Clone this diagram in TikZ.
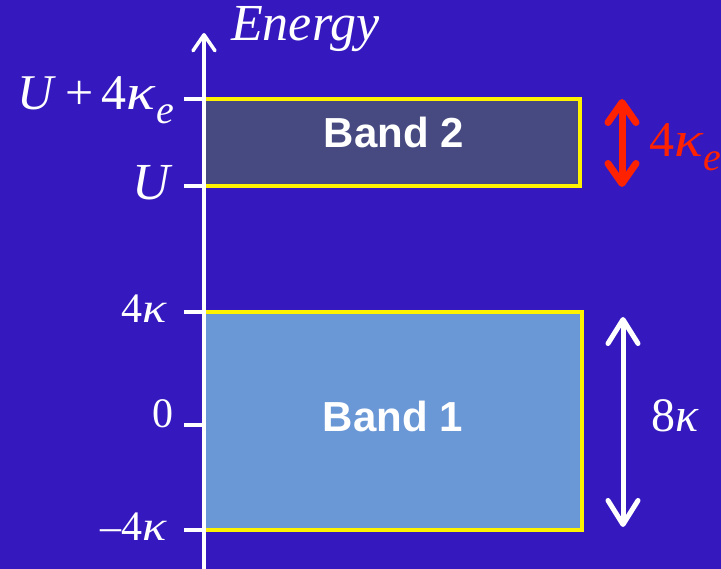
\documentclass[tikz,border=0pt]{standalone}
\usepackage{fontspec}
\setmainfont{Liberation Serif}
\newfontfamily\bandfont{Liberation Sans}
\usetikzlibrary{arrows.meta}
\definecolor{bgblue}{HTML}{3519BE}
\definecolor{bandtwo}{HTML}{464A80}
\definecolor{bandone}{HTML}{6A97D6}
\definecolor{bandedge}{HTML}{FFF200}
\definecolor{gapred}{HTML}{FF2200}
% a slightly wider italic kappa
\newcommand{\kap}{\scalebox{1.2}[1]{\textit{κ}}}
\newcommand{\subE}[1]{\raisebox{-0.28em}{\fontsize{40}{40}\selectfont\textit{#1}}}
\tikzset{
  bandbox/.style={draw=bandedge, line width=3.5pt, inner sep=0pt},
  bandtext/.style={text=white, anchor=base, inner sep=0pt,
    font=\bandfont\bfseries\fontsize{42}{42}\selectfont},
  axisline/.style={draw=white, line width=3.5pt,
    -{Straight Barb[length=16pt,width=22pt,line cap=round,line join=round]}},
  tickline/.style={draw=white, line width=3.5pt},
  ticklabel/.style={text=white, anchor=base east, inner sep=0pt},
  widthlabel/.style={anchor=base west, inner sep=0pt},
  whitespan/.style={draw=white, line width=5pt, line cap=round,
    {Straight Barb[length=24pt,width=30pt,line cap=round,line join=round]}-{Straight Barb[length=24pt,width=30pt,line cap=round,line join=round]}},
  redspan/.style={draw=gapred, line width=7pt, line cap=round,
    {Straight Barb[length=20pt,width=28pt,line cap=round,line join=round]}-{Straight Barb[length=20pt,width=28pt,line cap=round,line join=round]}},
}
\begin{document}
\begin{tikzpicture}[x=1pt,y=-1pt]
% backdrop
\fill[bgblue] (0,0) rectangle (721,569);
\useasboundingbox (0,0) rectangle (721,569);

% energy bands
\node[bandbox, fill=bandtwo, minimum width=376pt, minimum height=87pt] (band2) at (392,142.5) {};
\node[bandtext] (band2txt) at (394,148) {Band 2};
\node[bandbox, fill=bandone, minimum width=378pt, minimum height=218pt] (band1) at (393,421) {};
\node[bandtext] (band1txt) at (393,432) {Band 1};

% energy axis
\coordinate (axbot) at (204,569);
\coordinate (axtop) at (204,33);
\draw[axisline] (axbot) -- (axtop);
\node[text=white, anchor=base west, inner sep=0pt, font=\fontsize{52}{52}\selectfont\itshape] (energy) at (231,41) {Energy};

% ticks and their labels
\foreach \nm/\yy in {t1/99, t2/186, t3/312, t4/425, t5/530} {
  \coordinate (\nm a) at (184,\yy);
  \coordinate (\nm b) at (204,\yy);
  \draw[tickline] (\nm a) -- (\nm b);
}
\node[ticklabel, font=\fontsize{50}{50}\selectfont] (l1) at (174,110) {\textit{U}\,+\,4\kap\subE{e}};
\node[ticklabel, font=\fontsize{52}{52}\selectfont] (l2) at (173,200) {\textit{U}};
\node[ticklabel, font=\fontsize{42}{42}\selectfont] (l3) at (167,323) {4\kap};
\node[ticklabel, font=\fontsize{42}{42}\selectfont] (l4) at (174,428) {0};
\node[ticklabel, font=\fontsize{42}{42}\selectfont] (l5) at (167,540) {–4\kap};

% band widths
\coordinate (r2top) at (622,99);
\coordinate (r2bot) at (622,187);
\draw[redspan] (r2top) -- (r2bot);
\node[widthlabel, text=gapred, font=\fontsize{50}{50}\selectfont] (w2) at (649,157) {4\kap\subE{e}};

\coordinate (r1top) at (623,317);
\coordinate (r1bot) at (623,527);
\draw[whitespan] (r1top) -- (r1bot);
\node[widthlabel, text=white, font=\fontsize{48}{48}\selectfont] (w1) at (651,432) {8\textit{κ}};
\end{tikzpicture}
\end{document}
